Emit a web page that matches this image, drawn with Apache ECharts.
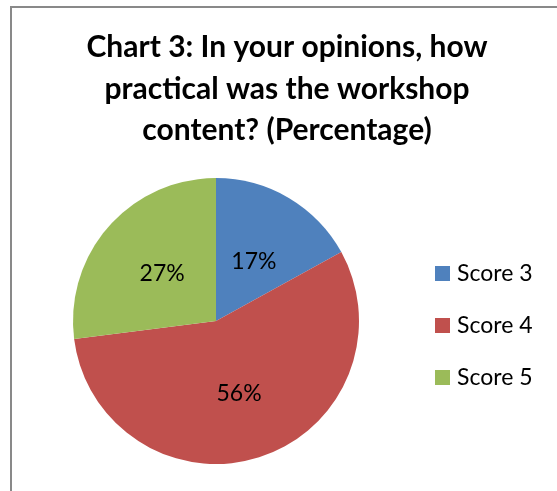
<!DOCTYPE html>
<html>
<head>
<meta charset="utf-8">
<script src="https://cdn.jsdelivr.net/npm/echarts@6/dist/echarts.min.js"></script>
<style>
  html, body { margin: 0; padding: 0; background: #fff; }
  #chart { width: 557px; height: 491px; }
</style>
</head>
<body>
<div id="chart"></div>
<script>
// 图表数据
var categories = ['Score 3', 'Score 4', 'Score 5'];
var values = [17, 56, 27];
var colors = ['#4F81BD', '#C0504D', '#9BBB59'];
var titleText = 'Chart 3: In your opinions, how\npractical was the workshop\ncontent? (Percentage)';

// 标签微调
var labelOffsets = [[0, 5], [0, 2], [2, 2]];

var pieData = categories.map(function (name, i) {
	return {
		name: name,
		value: values[i],
		itemStyle: { color: colors[i] },
		label: { offset: labelOffsets[i] }
	};
});

var myChart = echarts.init(document.getElementById('chart'));
var option = {
	backgroundColor: '#fff',
	animation: false,
	title: {
		text: titleText,
		left: 282,
		top: 22,
		textAlign: 'center',
		textStyle: {
			fontFamily: 'Lato',
			fontWeight: 'bold',
			fontSize: 30,
			lineHeight: 41.5,
			color: '#000'
		}
	},
	legend: {
		orient: 'vertical',
		left: 435,
		top: 262,
		padding: 0,
		itemWidth: 15,
		itemHeight: 15,
		itemGap: 29,
		icon: 'rect',
		data: categories,
		textStyle: { fontFamily: 'Lato', fontSize: 23, lineHeight: 20, color: '#000', padding: [0, 0, 0, 2] }
	},
	graphic: [{
		type: 'rect',
		shape: { x: 11, y: 7, width: 700, height: 700 },
		style: { fill: 'none', stroke: '#898989', lineWidth: 2 },
		silent: true
	}],
	series: [{
		type: 'pie',
		center: [216, 321],
		radius: 143,
		startAngle: 90,
		clockwise: true,
		data: pieData,
		label: {
			position: 'inside',
			formatter: '{d}%',
			fontFamily: 'Lato',
			fontSize: 23,
			color: '#000'
		},
		labelLine: { show: false },
		emphasis: { disabled: true }
	}]
};
myChart.setOption(option);
</script>
</body>
</html>
